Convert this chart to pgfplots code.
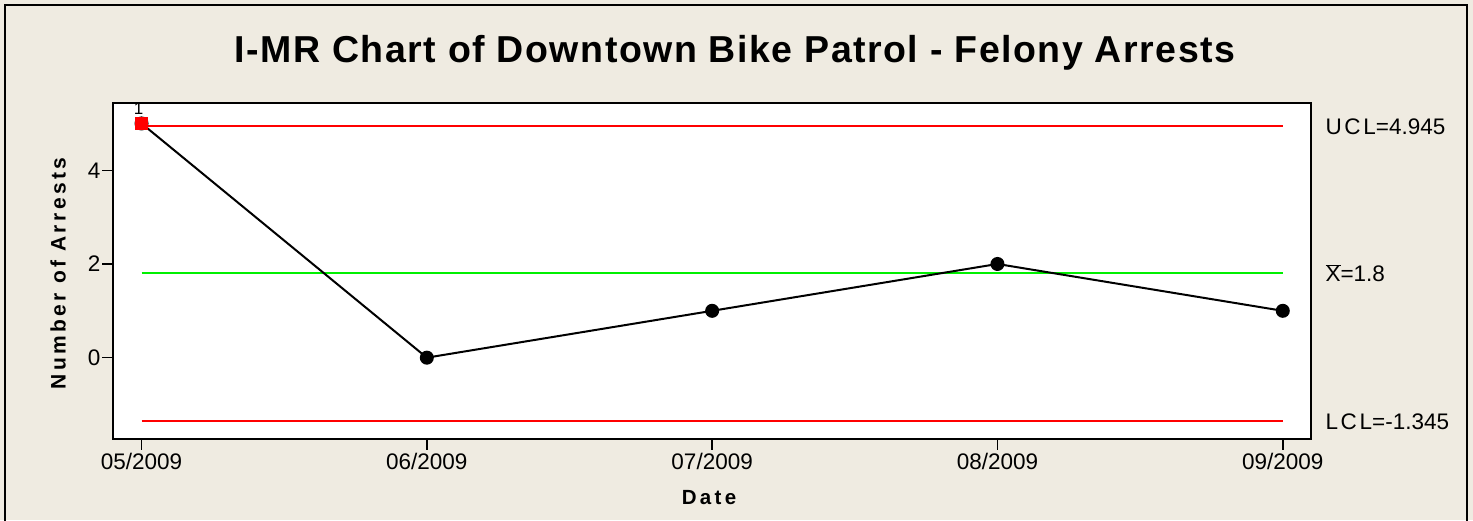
\documentclass[border=0pt]{standalone}
\usepackage{pgfplots}
\pgfplotsset{compat=1.18}
\usepackage{fontspec}
\setmainfont{Liberation Sans}
\definecolor{bg}{RGB}{239,235,225}
\definecolor{limred}{RGB}{255,0,0}
\definecolor{cgreen}{RGB}{0,240,0}
\pgfplotstableread{
x y
0 5
1 0
2 1
3 2
4 1
}\arrests
\begin{document}
\begin{tikzpicture}[x=1pt,y=1pt]
\useasboundingbox (0,0) rectangle (1473,520);
\clip (0,0) rectangle (1473,520);
\fill[bg] (0,0) rectangle (1473,520);
\draw[line width=2pt] (5,-10) -- (5,515) -- (1467,515) -- (1467,-10);
\node[anchor=base, inner sep=0pt, font=\fontsize{37.5}{40}\selectfont\bfseries\addfontfeature{LetterSpace=4}] at (735,457) {I-MR Chart of Downtown Bike Patrol - Felony Arrests};
\begin{axis}[
  at={(113pt,81.3pt)}, anchor=south west,
  scale only axis, width=1198.3pt, height=335.4pt,
  xmin=-0.1, xmax=4.1, ymin=-1.73, ymax=5.43,
  axis background/.style={fill=white},
  axis line style={line width=2pt},
  clip=false,
  xtick={0,1,2,3,4},
  xticklabels={05/2009,06/2009,07/2009,08/2009,09/2009},
  ytick={0,2,4},
  xtick pos=bottom, ytick pos=left,
  tick align=outside,
  major tick length=11pt,
  tick style={line width=1.5pt, black},
  /pgf/number format/assume math mode=true,
  ticklabel style={font=\fontsize{22.5}{26}\selectfont},
  yticklabel style={xshift=2pt},
  xlabel={Date},
  ylabel={Number of Arrests},
  xlabel style={at={(axis description cs:0.4974,-0.1947)}, anchor=base, inner sep=0pt,
    font=\fontsize{20.5}{24}\selectfont\bfseries\addfontfeature{LetterSpace=16}},
  ylabel style={at={(axis description cs:-0.0459,0.4925)}, anchor=center, inner sep=0pt,
    font=\fontsize{21}{24}\selectfont\bfseries\addfontfeature{LetterSpace=16}},
]
\addplot[limred, line width=2pt] coordinates {(0,4.945) (4,4.945)};
\addplot[cgreen, line width=2pt] coordinates {(0,1.8) (4,1.8)};
\addplot[limred, line width=2pt] coordinates {(0,-1.345) (4,-1.345)};
\addplot[black, line width=2pt, mark=*, mark size=6pt, mark options={fill=black, solid}] table[x=x,y=y] {\arrests};
\addplot[only marks, mark=square*, mark size=6pt, draw=limred, fill=limred] coordinates {(0,5)};
\node[anchor=base west, inner sep=0pt, font=\fontsize{22.5}{26}\selectfont] at (axis cs:4.1,4.945) [xshift=14pt, yshift=-8.5pt] {{\addfontfeature{LetterSpace=12}UCL}=4.945};
\node[anchor=base west, inner sep=0pt, font=\fontsize{22.5}{26}\selectfont] at (axis cs:4.1,1.8) [xshift=14pt, yshift=-8.5pt] {$\overline{\mbox{X}}$=1.8};
\node[anchor=base west, inner sep=0pt, font=\fontsize{22.5}{26}\selectfont] at (axis cs:4.1,-1.345) [xshift=14pt, yshift=-8.5pt] {{\addfontfeature{LetterSpace=12}LCL}=-1.345};
\node[anchor=south, inner sep=0pt, font=\fontsize{17}{19}\selectfont] at (axis cs:-0.01,5) [yshift=8.7pt] {1};
\end{axis}
\end{tikzpicture}
\end{document}
